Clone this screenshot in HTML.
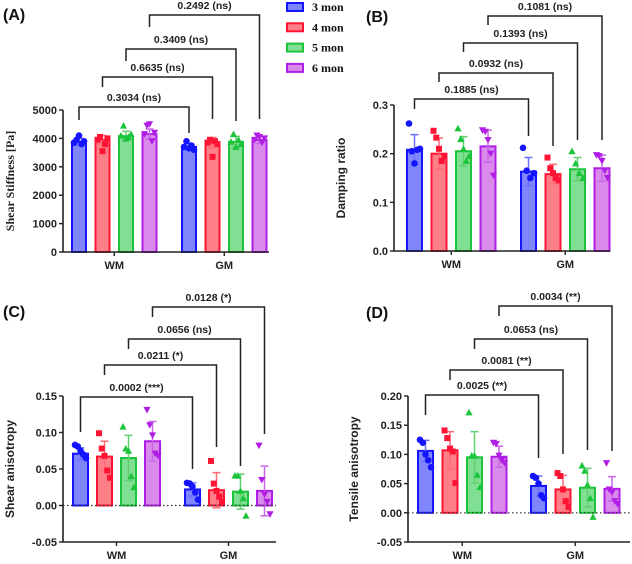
<!DOCTYPE html>
<html><head><meta charset="utf-8"><style>
html,body{margin:0;padding:0;background:#fff;width:632px;height:564px;overflow:hidden}
svg text{font-family:"Liberation Sans",sans-serif;font-weight:bold}
</style></head><body>
<svg id="fig" width="632" height="564" xmlns="http://www.w3.org/2000/svg"></svg>
<script>
// ---- data ----
const groups = ["WM","GM"];
const seriesNames = ["3 mon","4 mon","5 mon","6 mon"];
// Panel A: shear stiffness
const meanA = [[3880,3950,4080,4150],[3700,3850,3880,3950]];
const sdA = [[120,150,170,180],[110,180,190,130]];
const ptsA = [[[3850,3950,4100,3800,3900],[3950,4050,3550,3800,4000],[4100,4450,4000,4050,4150],[4150,4450,4500,3900,4200]],
              [[3700,3900,3650,3750,3600],[3850,3950,3350,3900,3800],[3880,4150,3700,3950,3800],[3950,4100,4050,3850,4000]]];
const ticksA = [0,1000,2000,3000,4000,5000];
const tickLabA = ["0","1000","2000","3000","4000","5000"];
// Panel B: damping ratio
const meanB = [[0.208,0.200,0.205,0.215],[0.163,0.158,0.168,0.170]];
const sdB = [[0.031,0.032,0.030,0.033],[0.029,0.020,0.024,0.027]];
const ptsB = [[[0.262,0.205,0.180,0.208,0.210],[0.247,0.233,0.210,0.185,0.195],[0.252,0.230,0.210,0.185,0.195],[0.248,0.245,0.228,0.200,0.155]],
              [[0.212,0.165,0.150,0.160],[0.192,0.170,0.160,0.150,0.145],[0.205,0.180,0.160,0.150],[0.197,0.195,0.185,0.165,0.150]]];
const ticksB = [0,0.1,0.2,0.3];
const tickLabB = ["0.0","0.1","0.2","0.3"];
// Panel C: shear anisotropy
const meanC = [[0.071,0.067,0.065,0.088],[0.022,0.021,0.019,0.020]];
const sdC = [[0.008,0.021,0.031,0.027],[0.009,0.024,0.024,0.034]];
const ptsC = [[[0.083,0.081,0.075,0.070,0.065],[0.099,0.078,0.068,0.048,0.038],[0.108,0.078,0.075,0.040,0.025],[0.131,0.110,0.096,0.071,0.068]],
              [[0.031,0.030,0.026,0.018,0.008],[0.061,0.030,0.020,0.012,0.005],[0.041,0.041,0.020,0.010,-0.014],[0.082,0.035,0.015,0.005,-0.012]]];
const ticksC = [-0.05,0,0.05,0.10,0.15];
const tickLabC = ["-0.05","0.00","0.05","0.10","0.15"];
// Panel D: tensile anisotropy
const meanD = [[0.106,0.107,0.095,0.096],[0.046,0.040,0.043,0.041]];
const sdD = [[0.018,0.032,0.044,0.018],[0.017,0.024,0.033,0.021]];
const ptsD = [[[0.125,0.120,0.100,0.090,0.078],[0.141,0.128,0.110,0.105,0.051],[0.172,0.098,0.098,0.065,0.044],[0.120,0.118,0.098,0.090,0.085]],
              [[0.063,0.060,0.050,0.030,0.025],[0.068,0.063,0.040,0.020,0.010],[0.081,0.072,0.048,0.025,-0.007],[0.085,0.040,0.035,0.020,0.015]]];
const ticksD = [-0.05,0,0.05,0.10,0.15,0.20];
const tickLabD = ["-0.05","0.00","0.05","0.10","0.15","0.20"];
// comparisons
const pA = ["0.3034 (ns)","0.6635 (ns)","0.3409 (ns)","0.2492 (ns)"];
const pB = ["0.1885 (ns)","0.0932 (ns)","0.1393 (ns)","0.1081 (ns)"];
const pC = ["0.0002 (***)","0.0211 (*)","0.0656 (ns)","0.0128 (*)"];
const pD = ["0.0025 (**)","0.0081 (**)","0.0653 (ns)","0.0034 (**)"];

const fills=["#7f86fb","#ff7f88","#80df92","#da8aea"];
const strokes=["#1414ff","#ff1434","#1cc43c","#b01ee6"];
const errs=["#6a70ff","#ff6a78","#60d070","#c866e8"];
const NS="http://www.w3.org/2000/svg";
const svg=document.getElementById("fig");
function mk(tag,attrs,parent){const e=document.createElementNS(NS,tag);for(const k in attrs)e.setAttribute(k,attrs[k]);(parent||svg).appendChild(e);return e;}

function panel(cfg){
  const g=mk("g",{});
  
  
  const vmin=cfg.ticks[0], vmax=cfg.ticks[cfg.ticks.length-1];
  const y=v=>cfg.yBot+(v-vmin)/(vmax-vmin)*(cfg.yTop-cfg.yBot);
  const bx=(gi,si)=>cfg.gx[gi]+si*cfg.step;
  const zero=y(Math.max(0,vmin));
  // bars
  for(let gi=0;gi<2;gi++)for(let si=0;si<4;si++){
    const m=cfg.mean[gi][si], s=cfg.sd[gi][si], x0=bx(gi,si), cx=x0+cfg.bw/2;
    const r=mk("rect",{x:x0,y:y(m),width:cfg.bw,height:zero-y(m),fill:fills[si],stroke:strokes[si],"stroke-width":2},g);
    
    
    const el=mk("path",{d:`M${cx} ${y(m-s)}V${y(m+s)}M${cx-4} ${y(m+s)}H${cx+4}M${cx-4} ${y(m-s)}H${cx+4}`,stroke:errs[si],"stroke-width":1.5,fill:"none"},g);
    
    
    const pts=cfg.pts[gi][si];
    pts.forEach((v,k)=>{
      const px=x0+2+k*(cfg.bw-4)/(pts.length-1||1), py=y(v);
      let p;
      if(si===0)p=mk("circle",{cx:px,cy:py,r:3.3,fill:strokes[si]},g);
      else if(si===1)p=mk("rect",{x:px-3,y:py-3,width:6,height:6,fill:strokes[si]},g);
      else if(si===2)p=mk("path",{d:`M${px} ${py-3.6}L${px+3.6} ${py+3}L${px-3.6} ${py+3}Z`,fill:strokes[si]},g);
      else p=mk("path",{d:`M${px} ${py+3.6}L${px+3.6} ${py-3}L${px-3.6} ${py-3}Z`,fill:strokes[si]},g);
      
      
    });
  }
  if(vmin<0){mk("line",{x1:cfg.ox,x2:cfg.xEnd,y1:zero,y2:zero,stroke:"#333","stroke-width":1.2,"stroke-dasharray":"1.5,2.5"},g);}
  // axes
  const ax=mk("path",{d:`M${cfg.ox} ${y(vmax)}V${cfg.yBot}H${cfg.xEnd}`,stroke:"#222","stroke-width":1.6,fill:"none"},g);
  
  
  cfg.ticks.forEach((t,i)=>{
    mk("line",{x1:cfg.ox-4,x2:cfg.ox,y1:y(t),y2:y(t),stroke:"#222","stroke-width":1.4},g);
    const tx=mk("text",{x:cfg.ox-6,y:y(t)+4,"text-anchor":"end","font-size":11,fill:"#222"},g);
    tx.textContent=cfg.tickLab[i];
    
    
  });
  for(let gi=0;gi<2;gi++){
    const cx=(bx(gi,0)+bx(gi,3)+cfg.bw)/2;
    mk("line",{x1:cx,x2:cx,y1:cfg.yBot,y2:cfg.yBot+4,stroke:"#222","stroke-width":1.4},g);
    const tx=mk("text",{x:cx,y:cfg.yBot+17,"text-anchor":"middle","font-size":11,fill:"#222"},g);
    tx.textContent=groups[gi];
    
    
  }
  const yt=mk("text",{x:0,y:0,"text-anchor":"middle","font-size":cfg.serif?12:12,fill:"#222",transform:`translate(${cfg.titleX},${(y(vmax)+cfg.yBot)/2}) rotate(-90)`},g);
  if(cfg.serif)yt.setAttribute("style","font-family:'Liberation Serif',serif");
  yt.textContent=cfg.title;
  
  
  const pl=mk("text",{x:cfg.lab[0],y:cfg.lab[1],"font-size":16,fill:"#111"},g);
  pl.textContent=cfg.letter;
  
  
  // brackets
  cfg.br.forEach((b,si)=>{
    const l=bx(0,si)+cfg.bw/2, r=bx(1,si)+cfg.bw/2;
    const p=mk("path",{d:`M${l} ${b[1]}V${b[0]}H${r}V${b[2]}`,stroke:"#222","stroke-width":1.5,fill:"none"},g);
    
    
    const t=mk("text",{x:(l+r)/2,y:b[0]-6,"text-anchor":"middle","font-size":10.5,fill:"#222"},g);
    t.textContent=cfg.p[si];
    
    
  });
}
panel({name:"panel-a",letter:"(A)",lab:[3,20],ox:63,yTop:110,yBot:252,ticks:ticksA,tickLab:tickLabA,gx:[72,182],step:23.5,bw:14,xEnd:269,mean:meanA,sd:sdA,pts:ptsA,title:"Shear Stiffness [Pa]",titleX:14,serif:true,p:pA,
  br:[[107,120,133],[77,87,119],[49,61,121],[15,27,119]]});
panel({name:"panel-b",letter:"(B)",lab:[366,22],ox:394,yTop:105,yBot:251,ticks:ticksB,tickLab:tickLabB,gx:[407,521],step:24.5,bw:15,xEnd:610,mean:meanB,sd:sdB,pts:ptsB,title:"Damping ratio",titleX:345,p:pB,
  br:[[99,109,136],[73,82,146],[43,52,140],[16,25,140]]});
panel({name:"panel-c",letter:"(C)",lab:[3,317],ox:63,yTop:396,yBot:542,ticks:ticksC,tickLab:tickLabC,gx:[73,185],step:24,bw:15,xEnd:276,mean:meanC,sd:sdC,pts:ptsC,title:"Shear anisotropy",titleX:14,p:pC,
  br:[[397,432,469],[365,375,447],[339,349,466],[307,317,434]]});
panel({name:"panel-d",letter:"(D)",lab:[366,318],ox:408,yTop:396,yBot:542,ticks:ticksD,tickLab:tickLabD,gx:[418,531],step:24.5,bw:15,xEnd:630,mean:meanD,sd:sdD,pts:ptsD,title:"Tensile anisotropy",titleX:358,p:pD,
  br:[[395,415,458],[370,380,454],[339,349,450],[306,316,451]]});
// legend
seriesNames.forEach((n,i)=>{
  const yy=7+i*20.3;
  const r=mk("rect",{x:287,y:yy-4,width:16,height:8,fill:fills[i],stroke:strokes[i],"stroke-width":2});
  
  
  const t=mk("text",{x:312,y:yy+4,"font-size":12,fill:"#111",style:"font-family:'Liberation Serif',serif"});
  t.textContent=n;
  
  
});
</script>
</body></html>
